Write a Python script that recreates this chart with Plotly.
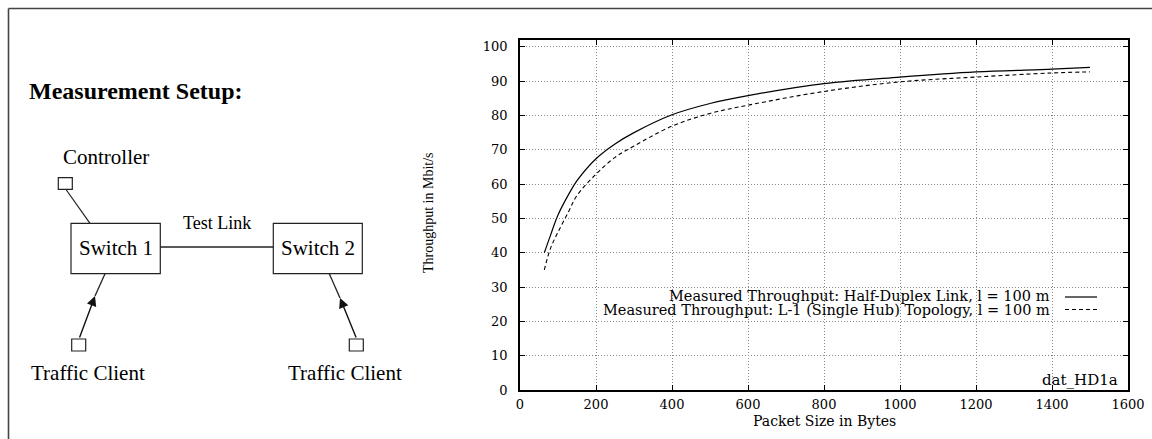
import plotly.graph_objects as go

W, H = 1152, 439

# ---- data ----
packet_sizes = [64, 80, 100, 128, 150, 200, 250, 300, 400, 500, 600, 800, 1000, 1200, 1400, 1500]
half_duplex = [40.0, 45.0, 51.0, 57.0, 61.0, 67.4, 71.7, 75.0, 80.2, 83.5, 85.8, 89.3, 91.2, 92.7, 93.5, 94.0]
single_hub = [35.0, 41.2, 46.0, 52.0, 56.7, 62.9, 67.8, 71.1, 76.9, 80.6, 83.0, 87.0, 89.8, 91.2, 92.4, 92.7]
series_names = [
    "Measured Throughput: Half-Duplex Link, l = 100 m",
    "Measured Throughput: L-1 (Single Hub) Topology, l = 100 m",
]
x_ticks = [0, 200, 400, 600, 800, 1000, 1200, 1400, 1600]
y_ticks = [0, 10, 20, 30, 40, 50, 60, 70, 80, 90, 100]

# plot box in pixels
PL, PR, PT, PB = 520, 1128, 40, 390


def px(x):
    return x / W


def py(y):
    return 1 - y / H


SERIF = "DejaVu Serif"
TIMES = "Liberation Serif"

fig = go.Figure()
fig.add_trace(go.Scatter(x=packet_sizes, y=half_duplex, mode="lines",
                         line=dict(color="black", width=1.2), name=series_names[0],
                         line_shape="spline", showlegend=False))
fig.add_trace(go.Scatter(x=packet_sizes, y=single_hub, mode="lines",
                         line=dict(color="black", width=1.1, dash="4px,3px"), name=series_names[1],
                         line_shape="spline", showlegend=False))

axis_common = dict(
    showline=True, linecolor="black", linewidth=1.5, mirror="allticks",
    ticks="inside", ticklen=5, tickcolor="black", tickwidth=1,
    showgrid=True, gridcolor="#888", griddash="1px,2px", gridwidth=1,
    zeroline=False, tickfont=dict(family=SERIF, size=13, color="black"),
    automargin=False,
)
fig.update_xaxes(domain=[px(PL), px(PR)], range=[0, 1600], tickvals=x_ticks,
                 ticklabelstandoff=2, **axis_common)
fig.update_yaxes(domain=[py(PB), py(PT)], range=[0, 102], tickvals=y_ticks,
                 ticklabelstandoff=8, **axis_common)

shapes = []
annotations = []


def line(x0, y0, x1, y1, width=1.2, color="#222", dash=None):
    d = dict(type="line", xref="paper", yref="paper", x0=px(x0), y0=py(y0), x1=px(x1), y1=py(y1),
             line=dict(color=color, width=width))
    if dash:
        d["line"]["dash"] = dash
    shapes.append(d)


def rect(x0, y0, x1, y1, width=1.2):
    shapes.append(dict(type="rect", xref="paper", yref="paper", x0=px(x0), y0=py(y0), x1=px(x1), y1=py(y1),
                       line=dict(color="#222", width=width), fillcolor="rgba(0,0,0,0)"))


def text(t, x, y, size, family=TIMES, xanchor="center", yanchor="middle", bold=False, angle=0):
    if bold:
        t = "<b>" + t + "</b>"
    annotations.append(dict(text=t, xref="paper", yref="paper", x=px(x), y=py(y), showarrow=False,
                            xanchor=xanchor, yanchor=yanchor, textangle=angle,
                            font=dict(family=family, size=size, color="black")))


# outer frame (top and left edges)
line(8.5, 8.5, W, 8.5, width=1.6, color="#444")
line(8.5, 8.5, 8.5, H, width=1.6, color="#444")

# ---- measurement setup diagram ----
text("Measurement Setup:", 27, 91, 24, xanchor="left", bold=True)
text("Controller", 105.7, 157.5, 21)
rect(58.3, 177.7, 72.3, 189.3)
line(66, 189.5, 90, 223.3)
rect(71, 223.3, 160.3, 273.7)
rect(273.3, 223.3, 362.3, 273.7)
line(160.3, 247, 273.3, 247, width=1.5)
text("Switch 1", 115.5, 248, 21)
text("Switch 2", 317.5, 248, 21)
text("Test Link", 217, 223, 18)
rect(71.7, 339, 85.7, 351)
rect(349.3, 339, 363.3, 351)
text("Traffic Client", 87.5, 373, 21)
text("Traffic Client", 345.2, 373, 21)
# arrows from traffic clients toward switches
line(95, 296, 105, 273.7, width=1.3)
annotations.append(dict(text="", xref="paper", yref="paper", x=px(95), y=py(296), ax=79 - 95, ay=339 - 296,
                        showarrow=True, arrowhead=2, arrowsize=1.4, arrowwidth=1.4, arrowcolor="#111",
                        standoff=0, startstandoff=0))
line(340, 298, 329.3, 273.7, width=1.3)
annotations.append(dict(text="", xref="paper", yref="paper", x=px(340), y=py(298), ax=356.7 - 340, ay=339 - 298,
                        showarrow=True, arrowhead=2, arrowsize=1.4, arrowwidth=1.4, arrowcolor="#111",
                        standoff=0, startstandoff=0))

# ---- chart texts ----
text("Throughput in Mbit/s", 428, 213, 14, angle=-90)
text("Packet Size in Bytes", 824, 421, 14, family=SERIF)
text("dat_HD1a", 1120, 380, 15, family=SERIF, xanchor="right")

# key (gnuplot style: text right-aligned, sample at right)
text(series_names[0], 1052, 296, 14.5, family=SERIF, xanchor="right")
text(series_names[1], 1052, 310, 14.5, family=SERIF, xanchor="right")
line(1065, 297, 1097, 297, width=1.2, color="black")
line(1065, 309.5, 1097, 309.5, width=1.1, color="black", dash="4px,3px")

fig.update_layout(
    width=W, height=H, margin=dict(l=0, r=0, t=0, b=0),
    paper_bgcolor="white", plot_bgcolor="white",
    shapes=shapes, annotations=annotations, showlegend=False,
    template="none",
)

fig.write_html("out.html")
